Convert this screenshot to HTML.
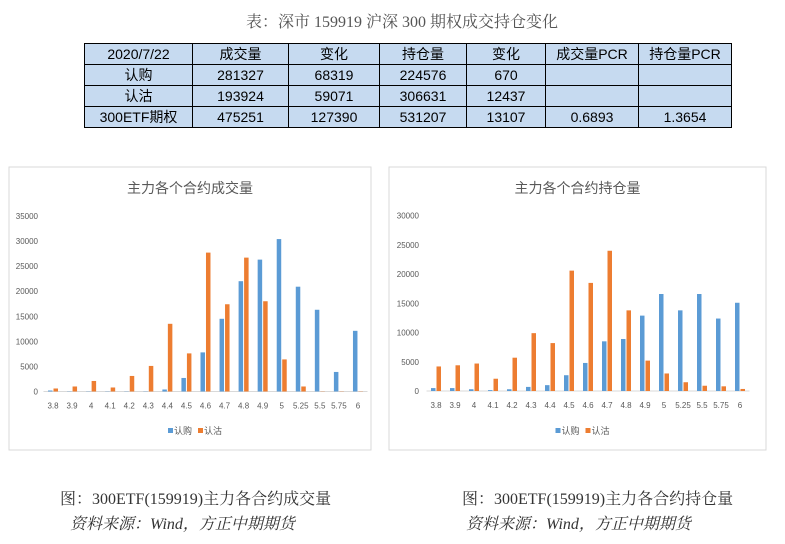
<!DOCTYPE html>
<html><head><meta charset="utf-8"><style>
body{margin:0;background:#fff;width:785px;height:544px;overflow:hidden;position:relative;font-family:"Liberation Sans","Noto Sans CJK SC",sans-serif}
.t{position:absolute;white-space:nowrap}
table{position:absolute;left:84px;top:43px;border-collapse:collapse;font-size:14px;font-family:"Liberation Sans","Noto Sans CJK SC",sans-serif}
td{border:1px solid #000;background:#c6daf0;height:19px;padding:0;text-align:center}
</style></head><body>
<div class="t" style="left:246px;top:9px;font-size:16px;color:#555;font-family:'Liberation Serif','Noto Serif CJK SC',serif">表：深市 159919 沪深 300 期权成交持仓变化</div>
<table>
<colgroup><col style="width:108px"><col style="width:96px"><col style="width:91px"><col style="width:87px"><col style="width:79px"><col style="width:93px"><col style="width:93px"></colgroup>
<tr><td>2020/7/22</td><td>成交量</td><td>变化</td><td>持仓量</td><td>变化</td><td>成交量PCR</td><td>持仓量PCR</td></tr>
<tr><td>认购</td><td>281327</td><td>68319</td><td>224576</td><td>670</td><td></td><td></td></tr>
<tr><td>认沽</td><td>193924</td><td>59071</td><td>306631</td><td>12437</td><td></td><td></td></tr>
<tr><td>300ETF期权</td><td>475251</td><td>127390</td><td>531207</td><td>13107</td><td>0.6893</td><td>1.3654</td></tr>
</table>
<svg id="c1" style="position:absolute;left:0;top:0" width="785" height="544"></svg>
<div class="t" style="left:60px;top:486px;font-size:16px;color:#333;font-family:'Liberation Serif','Noto Serif CJK SC',serif">图：300ETF(159919)主力各合约成交量</div>
<div class="t" style="left:70px;top:511px;font-size:16px;color:#333;font-style:italic;font-family:'Liberation Serif','Noto Serif CJK SC',serif">资料来源：Wind，方正中期期货</div>
<div class="t" style="left:462px;top:486px;font-size:16px;color:#333;font-family:'Liberation Serif','Noto Serif CJK SC',serif">图：300ETF(159919)主力各合约持仓量</div>
<div class="t" style="left:466px;top:511px;font-size:16px;color:#333;font-style:italic;font-family:'Liberation Serif','Noto Serif CJK SC',serif">资料来源：Wind，方正中期期货</div>
<script>
const strikes=["3.8","3.9","4","4.1","4.2","4.3","4.4","4.5","4.6","4.7","4.8","4.9","5","5.25","5.5","5.75","6"];
const volCall=[200,50,50,50,50,50,400,2700,7800,14500,22000,26300,30400,20900,16300,3900,12100];
const volPut=[600,1000,2100,800,3100,5100,13500,7600,27700,17400,26700,18000,6400,1000,50,50,50];
const oiCall=[500,500,300,150,300,700,1000,2700,4800,8500,8900,12900,16600,13800,16600,12400,15100];
const oiPut=[4200,4400,4700,2100,5700,9900,8200,20600,18500,24000,13800,5200,3000,1500,900,800,350];
const volTicks=[0,5000,10000,15000,20000,25000,30000,35000];
const oiTicks=[0,5000,10000,15000,20000,25000,30000];
const svg=document.getElementById('c1');const NS='http://www.w3.org/2000/svg';
function mk(tag,a,txt){const e=document.createElementNS(NS,tag);for(const k in a)e.setAttribute(k,a[k]);if(txt!=null)e.textContent=txt;svg.appendChild(e);return e;}
function chart(o){
 let f=mk('rect',{x:o.bx,y:167,width:o.bw,height:283,fill:'#fff',stroke:'#d9d9d9'});
 
 let t=mk('text',{x:o.bx+o.bw/2,y:193,'text-anchor':'middle','font-size':14,fill:'#595959'},o.title);
 
 const y=v=>o.y0-(v/o.max)*(o.y0-o.yTop);
 const x=i=>o.x0+i*o.step;
 o.ticks.forEach(v=>{let l=mk('text',{x:o.lx,y:y(v)+3,'text-anchor':'end','font-size':8,fill:'#595959'},v);
  });
 let ax=mk('line',{x1:x(0)-o.step/2,x2:x(strikes.length-1)+o.step/2,y1:o.y0,y2:o.y0,stroke:'#d9d9d9'});
 
 strikes.forEach((s,i)=>{
  let l=mk('text',{x:x(i),y:o.y0+17,'text-anchor':'middle','font-size':8,fill:'#595959'},s);
  
  let b1=mk('rect',{x:x(i)-5,y:y(o.call[i]),width:4.5,height:o.y0-y(o.call[i]),fill:'#5b9bd5'});
  
  let b2=mk('rect',{x:x(i)+0.5,y:y(o.put[i]),width:4.5,height:o.y0-y(o.put[i]),fill:'#ed7d31'});
  
 });
 const lx=o.bx+o.bw/2-22;
 let r1=mk('rect',{x:lx,y:428,width:5,height:5,fill:'#5b9bd5'});
 let t1=mk('text',{x:lx+6,y:434,'font-size':9,fill:'#595959'},'认购');
 let r2=mk('rect',{x:lx+30,y:428,width:5,height:5,fill:'#ed7d31'});
 let t2=mk('text',{x:lx+36,y:434,'font-size':9,fill:'#595959'},'认沽');
}
chart({name:'volume-chart',bx:9,bw:362,title:'主力各个合约成交量',x0:53,step:19.06,y0:391.5,yTop:216,max:35000,ticks:volTicks,lx:38,call:volCall,put:volPut});
chart({name:'oi-chart',bx:389,bw:377,title:'主力各个合约持仓量',x0:436,step:19,y0:391,yTop:215.7,max:30000,ticks:oiTicks,lx:419,call:oiCall,put:oiPut});
</script>
</body></html>
